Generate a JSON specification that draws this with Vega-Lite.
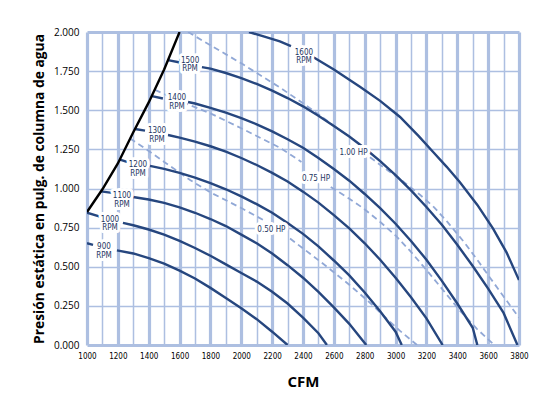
{
  "$schema": "https://vega.github.io/schema/vega-lite/v6.json",
  "width": 432,
  "height": 313,
  "autosize": {"type": "none"},
  "padding": {"left": 87, "top": 32, "right": 39, "bottom": 52},
  "background": "white",
  "config": {"view": {"stroke": null}},
  "datasets": {
    "rpm": [
      {"rpm": "900", "seg": "a", "cfm": 1000, "p": 0.65}, {"rpm": "900", "seg": "a", "cfm": 1039, "p": 0.64},
      {"rpm": "900", "seg": "b", "cfm": 1194, "p": 0.605}, {"rpm": "900", "seg": "b", "cfm": 1300, "p": 0.585}, {"rpm": "900", "seg": "b", "cfm": 1400, "p": 0.555}, {"rpm": "900", "seg": "b", "cfm": 1500, "p": 0.52}, {"rpm": "900", "seg": "b", "cfm": 1600, "p": 0.475}, {"rpm": "900", "seg": "b", "cfm": 1700, "p": 0.425}, {"rpm": "900", "seg": "b", "cfm": 1800, "p": 0.365}, {"rpm": "900", "seg": "b", "cfm": 1900, "p": 0.3}, {"rpm": "900", "seg": "b", "cfm": 2000, "p": 0.235}, {"rpm": "900", "seg": "b", "cfm": 2100, "p": 0.165}, {"rpm": "900", "seg": "b", "cfm": 2200, "p": 0.085}, {"rpm": "900", "seg": "b", "cfm": 2300, "p": 0.0},
      {"rpm": "1000", "seg": "a", "cfm": 1000, "p": 0.845}, {"rpm": "1000", "seg": "a", "cfm": 1084, "p": 0.82},
      {"rpm": "1000", "seg": "b", "cfm": 1233, "p": 0.78}, {"rpm": "1000", "seg": "b", "cfm": 1300, "p": 0.765}, {"rpm": "1000", "seg": "b", "cfm": 1400, "p": 0.738}, {"rpm": "1000", "seg": "b", "cfm": 1500, "p": 0.705}, {"rpm": "1000", "seg": "b", "cfm": 1600, "p": 0.665}, {"rpm": "1000", "seg": "b", "cfm": 1700, "p": 0.62}, {"rpm": "1000", "seg": "b", "cfm": 1800, "p": 0.57}, {"rpm": "1000", "seg": "b", "cfm": 1900, "p": 0.515}, {"rpm": "1000", "seg": "b", "cfm": 2000, "p": 0.46}, {"rpm": "1000", "seg": "b", "cfm": 2100, "p": 0.405}, {"rpm": "1000", "seg": "b", "cfm": 2200, "p": 0.34}, {"rpm": "1000", "seg": "b", "cfm": 2300, "p": 0.265}, {"rpm": "1000", "seg": "b", "cfm": 2400, "p": 0.175}, {"rpm": "1000", "seg": "b", "cfm": 2500, "p": 0.075}, {"rpm": "1000", "seg": "b", "cfm": 2555, "p": 0.0},
      {"rpm": "1100", "seg": "a", "cfm": 1091, "p": 0.982}, {"rpm": "1100", "seg": "a", "cfm": 1162, "p": 0.972},
      {"rpm": "1100", "seg": "b", "cfm": 1298, "p": 0.946}, {"rpm": "1100", "seg": "b", "cfm": 1400, "p": 0.93}, {"rpm": "1100", "seg": "b", "cfm": 1500, "p": 0.908}, {"rpm": "1100", "seg": "b", "cfm": 1600, "p": 0.88}, {"rpm": "1100", "seg": "b", "cfm": 1700, "p": 0.845}, {"rpm": "1100", "seg": "b", "cfm": 1800, "p": 0.805}, {"rpm": "1100", "seg": "b", "cfm": 1900, "p": 0.76}, {"rpm": "1100", "seg": "b", "cfm": 2000, "p": 0.705}, {"rpm": "1100", "seg": "b", "cfm": 2100, "p": 0.65}, {"rpm": "1100", "seg": "b", "cfm": 2200, "p": 0.585}, {"rpm": "1100", "seg": "b", "cfm": 2300, "p": 0.51}, {"rpm": "1100", "seg": "b", "cfm": 2400, "p": 0.43}, {"rpm": "1100", "seg": "b", "cfm": 2500, "p": 0.34}, {"rpm": "1100", "seg": "b", "cfm": 2600, "p": 0.24}, {"rpm": "1100", "seg": "b", "cfm": 2700, "p": 0.135}, {"rpm": "1100", "seg": "b", "cfm": 2810, "p": 0.0},
      {"rpm": "1200", "seg": "a", "cfm": 1214, "p": 1.185}, {"rpm": "1200", "seg": "a", "cfm": 1259, "p": 1.17},
      {"rpm": "1200", "seg": "b", "cfm": 1408, "p": 1.145}, {"rpm": "1200", "seg": "b", "cfm": 1500, "p": 1.125}, {"rpm": "1200", "seg": "b", "cfm": 1600, "p": 1.1}, {"rpm": "1200", "seg": "b", "cfm": 1700, "p": 1.07}, {"rpm": "1200", "seg": "b", "cfm": 1800, "p": 1.035}, {"rpm": "1200", "seg": "b", "cfm": 1900, "p": 0.995}, {"rpm": "1200", "seg": "b", "cfm": 2000, "p": 0.95}, {"rpm": "1200", "seg": "b", "cfm": 2100, "p": 0.9}, {"rpm": "1200", "seg": "b", "cfm": 2200, "p": 0.845}, {"rpm": "1200", "seg": "b", "cfm": 2300, "p": 0.78}, {"rpm": "1200", "seg": "b", "cfm": 2400, "p": 0.71}, {"rpm": "1200", "seg": "b", "cfm": 2500, "p": 0.63}, {"rpm": "1200", "seg": "b", "cfm": 2600, "p": 0.54}, {"rpm": "1200", "seg": "b", "cfm": 2700, "p": 0.445}, {"rpm": "1200", "seg": "b", "cfm": 2800, "p": 0.335}, {"rpm": "1200", "seg": "b", "cfm": 2900, "p": 0.215}, {"rpm": "1200", "seg": "b", "cfm": 3000, "p": 0.085}, {"rpm": "1200", "seg": "b", "cfm": 3040, "p": 0.0},
      {"rpm": "1300", "seg": "a", "cfm": 1311, "p": 1.38}, {"rpm": "1300", "seg": "a", "cfm": 1376, "p": 1.37},
      {"rpm": "1300", "seg": "b", "cfm": 1525, "p": 1.342}, {"rpm": "1300", "seg": "b", "cfm": 1600, "p": 1.325}, {"rpm": "1300", "seg": "b", "cfm": 1700, "p": 1.3}, {"rpm": "1300", "seg": "b", "cfm": 1800, "p": 1.27}, {"rpm": "1300", "seg": "b", "cfm": 1900, "p": 1.235}, {"rpm": "1300", "seg": "b", "cfm": 2000, "p": 1.195}, {"rpm": "1300", "seg": "b", "cfm": 2100, "p": 1.15}, {"rpm": "1300", "seg": "b", "cfm": 2200, "p": 1.1}, {"rpm": "1300", "seg": "b", "cfm": 2300, "p": 1.045}, {"rpm": "1300", "seg": "b", "cfm": 2400, "p": 0.98}, {"rpm": "1300", "seg": "b", "cfm": 2500, "p": 0.91}, {"rpm": "1300", "seg": "b", "cfm": 2600, "p": 0.83}, {"rpm": "1300", "seg": "b", "cfm": 2700, "p": 0.745}, {"rpm": "1300", "seg": "b", "cfm": 2800, "p": 0.65}, {"rpm": "1300", "seg": "b", "cfm": 2900, "p": 0.545}, {"rpm": "1300", "seg": "b", "cfm": 3000, "p": 0.43}, {"rpm": "1300", "seg": "b", "cfm": 3100, "p": 0.305}, {"rpm": "1300", "seg": "b", "cfm": 3200, "p": 0.17}, {"rpm": "1300", "seg": "b", "cfm": 3305, "p": 0.0},
      {"rpm": "1400", "seg": "a", "cfm": 1421, "p": 1.59}, {"rpm": "1400", "seg": "a", "cfm": 1492, "p": 1.575},
      {"rpm": "1400", "seg": "b", "cfm": 1655, "p": 1.553}, {"rpm": "1400", "seg": "b", "cfm": 1700, "p": 1.543}, {"rpm": "1400", "seg": "b", "cfm": 1800, "p": 1.515}, {"rpm": "1400", "seg": "b", "cfm": 1900, "p": 1.485}, {"rpm": "1400", "seg": "b", "cfm": 2000, "p": 1.45}, {"rpm": "1400", "seg": "b", "cfm": 2100, "p": 1.41}, {"rpm": "1400", "seg": "b", "cfm": 2200, "p": 1.365}, {"rpm": "1400", "seg": "b", "cfm": 2300, "p": 1.315}, {"rpm": "1400", "seg": "b", "cfm": 2400, "p": 1.26}, {"rpm": "1400", "seg": "b", "cfm": 2500, "p": 1.195}, {"rpm": "1400", "seg": "b", "cfm": 2600, "p": 1.125}, {"rpm": "1400", "seg": "b", "cfm": 2700, "p": 1.05}, {"rpm": "1400", "seg": "b", "cfm": 2800, "p": 0.965}, {"rpm": "1400", "seg": "b", "cfm": 2900, "p": 0.875}, {"rpm": "1400", "seg": "b", "cfm": 3000, "p": 0.775}, {"rpm": "1400", "seg": "b", "cfm": 3100, "p": 0.665}, {"rpm": "1400", "seg": "b", "cfm": 3200, "p": 0.545}, {"rpm": "1400", "seg": "b", "cfm": 3300, "p": 0.41}, {"rpm": "1400", "seg": "b", "cfm": 3400, "p": 0.265}, {"rpm": "1400", "seg": "b", "cfm": 3500, "p": 0.11}, {"rpm": "1400", "seg": "b", "cfm": 3530, "p": 0.0},
      {"rpm": "1500", "seg": "a", "cfm": 1525, "p": 1.82}, {"rpm": "1500", "seg": "a", "cfm": 1603, "p": 1.805},
      {"rpm": "1500", "seg": "b", "cfm": 1745, "p": 1.776}, {"rpm": "1500", "seg": "b", "cfm": 1800, "p": 1.766}, {"rpm": "1500", "seg": "b", "cfm": 1900, "p": 1.738}, {"rpm": "1500", "seg": "b", "cfm": 2000, "p": 1.706}, {"rpm": "1500", "seg": "b", "cfm": 2100, "p": 1.668}, {"rpm": "1500", "seg": "b", "cfm": 2200, "p": 1.625}, {"rpm": "1500", "seg": "b", "cfm": 2300, "p": 1.578}, {"rpm": "1500", "seg": "b", "cfm": 2400, "p": 1.525}, {"rpm": "1500", "seg": "b", "cfm": 2500, "p": 1.465}, {"rpm": "1500", "seg": "b", "cfm": 2600, "p": 1.4}, {"rpm": "1500", "seg": "b", "cfm": 2700, "p": 1.332}, {"rpm": "1500", "seg": "b", "cfm": 2800, "p": 1.257}, {"rpm": "1500", "seg": "b", "cfm": 2900, "p": 1.175}, {"rpm": "1500", "seg": "b", "cfm": 3000, "p": 1.085}, {"rpm": "1500", "seg": "b", "cfm": 3100, "p": 0.988}, {"rpm": "1500", "seg": "b", "cfm": 3200, "p": 0.882}, {"rpm": "1500", "seg": "b", "cfm": 3300, "p": 0.768}, {"rpm": "1500", "seg": "b", "cfm": 3400, "p": 0.64}, {"rpm": "1500", "seg": "b", "cfm": 3500, "p": 0.505}, {"rpm": "1500", "seg": "b", "cfm": 3600, "p": 0.36}, {"rpm": "1500", "seg": "b", "cfm": 3700, "p": 0.205}, {"rpm": "1500", "seg": "b", "cfm": 3790, "p": 0.0},
      {"rpm": "1600", "seg": "a", "cfm": 2050, "p": 2.0}, {"rpm": "1600", "seg": "a", "cfm": 2150, "p": 1.97}, {"rpm": "1600", "seg": "a", "cfm": 2250, "p": 1.94}, {"rpm": "1600", "seg": "a", "cfm": 2322, "p": 1.91},
      {"rpm": "1600", "seg": "b", "cfm": 2465, "p": 1.84}, {"rpm": "1600", "seg": "b", "cfm": 2600, "p": 1.76}, {"rpm": "1600", "seg": "b", "cfm": 2769, "p": 1.65}, {"rpm": "1600", "seg": "b", "cfm": 2900, "p": 1.56}, {"rpm": "1600", "seg": "b", "cfm": 3029, "p": 1.457}, {"rpm": "1600", "seg": "b", "cfm": 3150, "p": 1.335}, {"rpm": "1600", "seg": "b", "cfm": 3242, "p": 1.235}, {"rpm": "1600", "seg": "b", "cfm": 3330, "p": 1.14}, {"rpm": "1600", "seg": "b", "cfm": 3417, "p": 1.04}, {"rpm": "1600", "seg": "b", "cfm": 3530, "p": 0.895}, {"rpm": "1600", "seg": "b", "cfm": 3631, "p": 0.745}, {"rpm": "1600", "seg": "b", "cfm": 3720, "p": 0.59}, {"rpm": "1600", "seg": "b", "cfm": 3800, "p": 0.415}
    ],
    "hp": [
      {"hp": "1.00", "seg": "a", "cfm": 1655, "p": 2.0}, {"hp": "1.00", "seg": "a", "cfm": 1800, "p": 1.915}, {"hp": "1.00", "seg": "a", "cfm": 2000, "p": 1.8}, {"hp": "1.00", "seg": "a", "cfm": 2121, "p": 1.725}, {"hp": "1.00", "seg": "a", "cfm": 2251, "p": 1.645}, {"hp": "1.00", "seg": "a", "cfm": 2400, "p": 1.545}, {"hp": "1.00", "seg": "a", "cfm": 2500, "p": 1.475}, {"hp": "1.00", "seg": "a", "cfm": 2620, "p": 1.385},
      {"hp": "1.00", "seg": "b", "cfm": 2834, "p": 1.2}, {"hp": "1.00", "seg": "b", "cfm": 2950, "p": 1.115}, {"hp": "1.00", "seg": "b", "cfm": 3029, "p": 1.06}, {"hp": "1.00", "seg": "b", "cfm": 3158, "p": 0.96}, {"hp": "1.00", "seg": "b", "cfm": 3250, "p": 0.88}, {"hp": "1.00", "seg": "b", "cfm": 3333, "p": 0.79}, {"hp": "1.00", "seg": "b", "cfm": 3450, "p": 0.65}, {"hp": "1.00", "seg": "b", "cfm": 3540, "p": 0.53}, {"hp": "1.00", "seg": "b", "cfm": 3612, "p": 0.43}, {"hp": "1.00", "seg": "b", "cfm": 3700, "p": 0.31}, {"hp": "1.00", "seg": "b", "cfm": 3800, "p": 0.175},
      {"hp": "0.75", "seg": "a", "cfm": 1441, "p": 1.63}, {"hp": "0.75", "seg": "a", "cfm": 1600, "p": 1.56}, {"hp": "0.75", "seg": "a", "cfm": 1800, "p": 1.48}, {"hp": "0.75", "seg": "a", "cfm": 2000, "p": 1.385}, {"hp": "0.75", "seg": "a", "cfm": 2251, "p": 1.26}, {"hp": "0.75", "seg": "a", "cfm": 2390, "p": 1.17},
      {"hp": "0.75", "seg": "b", "cfm": 2580, "p": 1.01}, {"hp": "0.75", "seg": "b", "cfm": 2700, "p": 0.935}, {"hp": "0.75", "seg": "b", "cfm": 2789, "p": 0.875}, {"hp": "0.75", "seg": "b", "cfm": 2890, "p": 0.795}, {"hp": "0.75", "seg": "b", "cfm": 3000, "p": 0.7}, {"hp": "0.75", "seg": "b", "cfm": 3100, "p": 0.595}, {"hp": "0.75", "seg": "b", "cfm": 3204, "p": 0.475}, {"hp": "0.75", "seg": "b", "cfm": 3300, "p": 0.36}, {"hp": "0.75", "seg": "b", "cfm": 3417, "p": 0.22}, {"hp": "0.75", "seg": "b", "cfm": 3530, "p": 0.1}, {"hp": "0.75", "seg": "b", "cfm": 3640, "p": 0.0},
      {"hp": "0.50", "seg": "a", "cfm": 1279, "p": 1.32}, {"hp": "0.50", "seg": "a", "cfm": 1400, "p": 1.24}, {"hp": "0.50", "seg": "a", "cfm": 1500, "p": 1.17}, {"hp": "0.50", "seg": "a", "cfm": 1668, "p": 1.054}, {"hp": "0.50", "seg": "a", "cfm": 1800, "p": 0.975}, {"hp": "0.50", "seg": "a", "cfm": 2000, "p": 0.875}, {"hp": "0.50", "seg": "a", "cfm": 2150, "p": 0.795},
      {"hp": "0.50", "seg": "b", "cfm": 2316, "p": 0.68}, {"hp": "0.50", "seg": "b", "cfm": 2450, "p": 0.58}, {"hp": "0.50", "seg": "b", "cfm": 2555, "p": 0.5}, {"hp": "0.50", "seg": "b", "cfm": 2700, "p": 0.385}, {"hp": "0.50", "seg": "b", "cfm": 2834, "p": 0.27}, {"hp": "0.50", "seg": "b", "cfm": 2950, "p": 0.16}, {"hp": "0.50", "seg": "b", "cfm": 3029, "p": 0.09}, {"hp": "0.50", "seg": "b", "cfm": 3139, "p": 0.0}
    ],
    "system": [
      {"cfm": 1000, "p": 0.85}, {"cfm": 1100, "p": 0.995}, {"cfm": 1200, "p": 1.16}, {"cfm": 1300, "p": 1.36}, {"cfm": 1400, "p": 1.55}, {"cfm": 1500, "p": 1.76}, {"cfm": 1600, "p": 2.0}
    ],
    "labels": [
      {"label": "900\nRPM", "cfm": 1110, "p": 0.626},
      {"label": "1000\nRPM", "cfm": 1149, "p": 0.8},
      {"label": "1100\nRPM", "cfm": 1227, "p": 0.952},
      {"label": "1200\nRPM", "cfm": 1330, "p": 1.15},
      {"label": "1300\nRPM", "cfm": 1454, "p": 1.367},
      {"label": "1400\nRPM", "cfm": 1583, "p": 1.578},
      {"label": "1500\nRPM", "cfm": 1668, "p": 1.815},
      {"label": "1600\nRPM", "cfm": 2406, "p": 1.866},
      {"label": "1.00 HP", "cfm": 2727, "p": 1.224},
      {"label": "0.75 HP", "cfm": 2484, "p": 1.06},
      {"label": "0.50 HP", "cfm": 2195, "p": 0.738}
    ]
  },
  "encoding": {
    "x": {
      "field": "cfm", "type": "quantitative",
      "scale": {"domain": [1000, 3800], "nice": false, "zero": false},
      "axis": {
        "values": [1000, 1100, 1200, 1300, 1400, 1500, 1600, 1700, 1800, 1900, 2000, 2100, 2200, 2300, 2400, 2500, 2600, 2700, 2800, 2900, 3000, 3100, 3200, 3300, 3400, 3500, 3600, 3700, 3800],
        "format": "d",
        "labelExpr": "datum.value % 200 === 0 ? datum.label : ''",
        "grid": true,
        "gridColor": "#adbfe1",
        "gridOpacity": 1,
        "gridWidth": {"condition": {"test": "datum.value % 200 === 0", "value": 3.2}, "value": 1.5},
        "ticks": false,
        "domain": false,
        "labelFont": "DejaVu Sans Condensed, Roboto, sans-serif",
        "labelFontSize": 8,
        "labelColor": "#000000",
        "labelPadding": 7,
        "labelFlush": false,
        "labelOverlap": false,
        "title": "CFM",
        "titleFont": "Open Sans",
        "titleFontSize": 15,
        "titleFontWeight": "bold",
        "titleColor": "#000000",
        "titlePadding": 14
      }
    },
    "y": {
      "field": "p", "type": "quantitative",
      "scale": {"domain": [0, 2], "nice": false},
      "axis": {
        "values": [0, 0.25, 0.5, 0.75, 1, 1.25, 1.5, 1.75, 2],
        "format": ".3f",
        "grid": true,
        "gridColor": "#adbfe1",
        "gridOpacity": 1,
        "gridWidth": {"condition": {"test": "datum.value === 0 || datum.value === 2", "value": 3.2}, "value": 1.5},
        "ticks": false,
        "domain": false,
        "labelFont": "Open Sans",
        "labelFontSize": 10,
        "labelColor": "#000000",
        "labelPadding": 8,
        "title": "Presión estática en pulg. de columna de agua",
        "titleFont": "Open Sans",
        "titleFontSize": 13.8,
        "titleFontWeight": "bold",
        "titleColor": "#000000",
        "titlePadding": 7
      }
    }
  },
  "layer": [
    {
      "data": {"name": "hp"},
      "mark": {"type": "line", "color": "#91a8d6", "strokeWidth": 1.8, "strokeDash": [6, 4], "clip": true},
      "encoding": {"detail": [{"field": "hp"}, {"field": "seg"}]}
    },
    {
      "data": {"name": "rpm"},
      "mark": {"type": "line", "color": "#26467e", "strokeWidth": 2.4, "clip": true},
      "encoding": {"detail": [{"field": "rpm"}, {"field": "seg"}]}
    },
    {
      "data": {"name": "system"},
      "mark": {"type": "line", "color": "#000000", "strokeWidth": 2.4, "clip": true},
      "encoding": {}
    },
    {
      "data": {"name": "labels"},
      "mark": {"type": "text", "lineBreak": "\n", "font": "DejaVu Sans Condensed, Roboto, sans-serif", "fontSize": 8, "lineHeight": 8.5, "align": "center", "baseline": "middle", "fill": "white", "stroke": "white", "strokeWidth": 6, "strokeJoin": "round"},
      "encoding": {"text": {"field": "label"}}
    },
    {
      "data": {"name": "labels"},
      "mark": {"type": "text", "lineBreak": "\n", "font": "DejaVu Sans Condensed, Roboto, sans-serif", "fontSize": 8, "lineHeight": 8.5, "align": "center", "baseline": "middle", "color": "#1e3561"},
      "encoding": {"text": {"field": "label"}}
    }
  ]
}
